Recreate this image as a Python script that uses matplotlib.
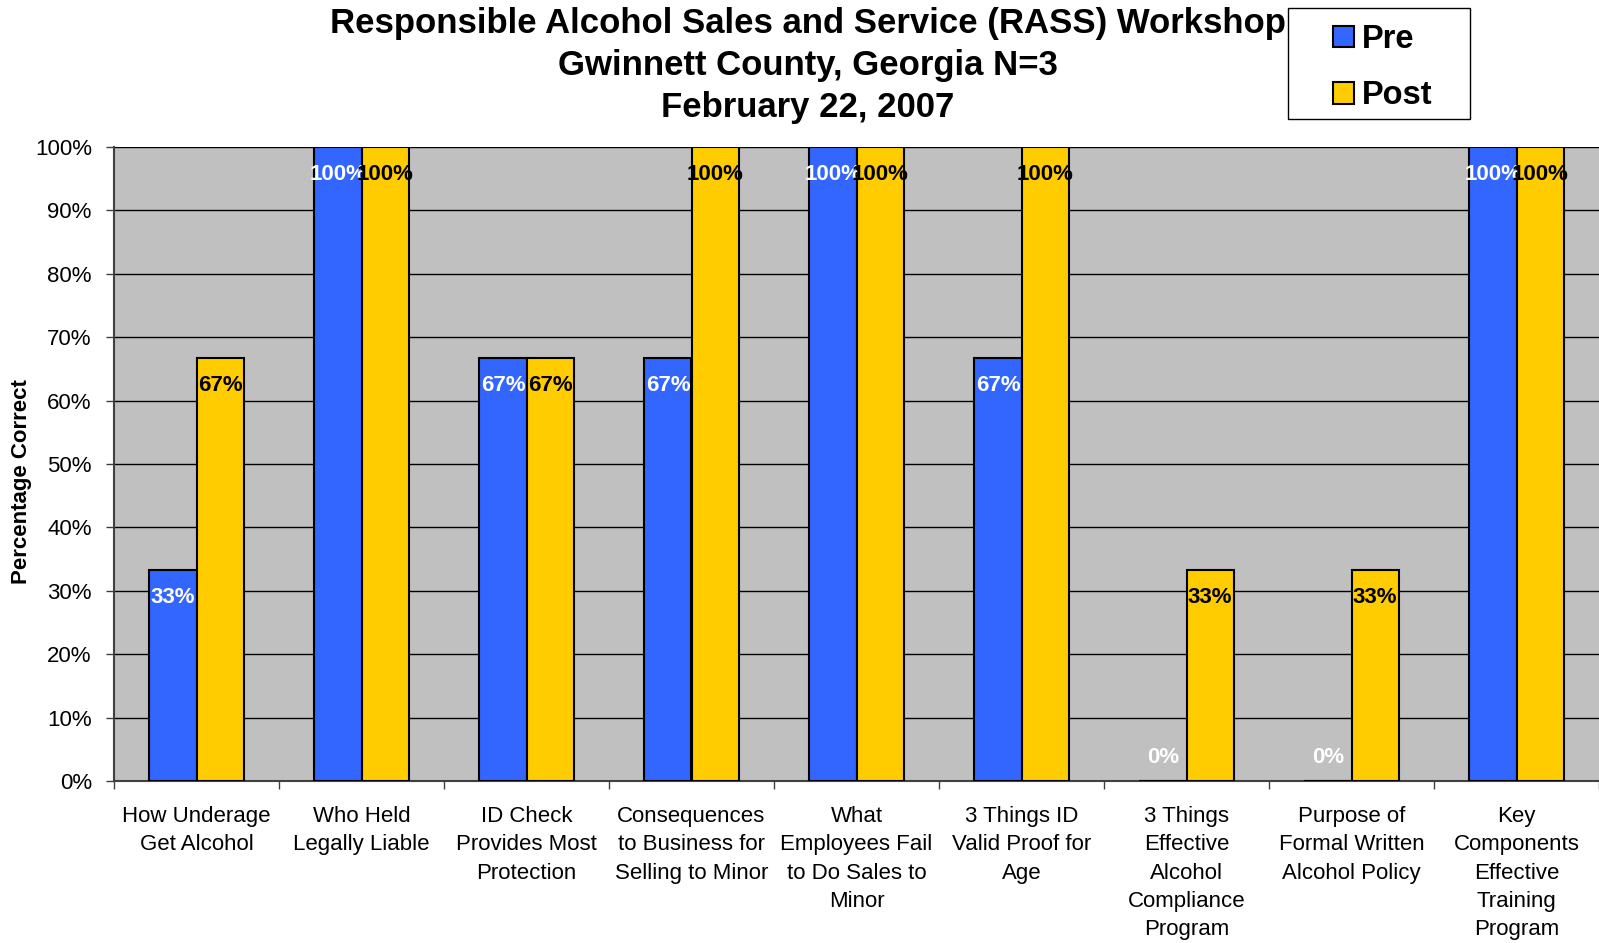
import numpy as np
import matplotlib
matplotlib.use("Agg")
import matplotlib.pyplot as plt
from matplotlib.patches import Rectangle
from matplotlib.ticker import FixedLocator, PercentFormatter

# Chart data
categories = [
    "How Underage\nGet Alcohol",
    "Who Held\nLegally Liable",
    "ID Check\nProvides Most\nProtection",
    "Consequences\nto Business for\nSelling to Minor",
    "What\nEmployees Fail\nto Do Sales to\nMinor",
    "3 Things ID\nValid Proof for\nAge",
    "3 Things\nEffective\nAlcohol\nCompliance\nProgram",
    "Purpose of\nFormal Written\nAlcohol Policy",
    "Key\nComponents\nEffective\nTraining\nProgram",
]
pre_values = [33.3, 100, 66.7, 66.7, 100, 66.7, 0, 0, 100]
post_values = [66.7, 100, 66.7, 100, 100, 100, 33.3, 33.3, 100]
series_names = ["Pre", "Post"]

title_lines = [
    "Responsible Alcohol Sales and Service (RASS) Workshop",
    "Gwinnett County, Georgia N=3",
    "February 22, 2007",
]

plt.rcParams['font.family'] = ['Liberation Sans', 'DejaVu Sans']

BLUE = "#3366FF"
YELLOW = "#FFCC00"

fig = plt.figure(figsize=(15.99, 9.43), dpi=100)
ax = fig.add_axes([114 / 1599, 1 - 781 / 943, 1 - 114 / 1599, (781 - 147) / 943])
ax.set_facecolor("#C0C0C0")

x = np.arange(len(categories))
w = 0.285
bars_pre = ax.bar(x - w / 2, pre_values, w, color=BLUE, edgecolor="black",
                  linewidth=1.5, label=series_names[0], zorder=3)
bars_post = ax.bar(x + w / 2, post_values, w, color=YELLOW, edgecolor="black",
                   linewidth=1.5, label=series_names[1], zorder=3)

# value labels
for bars, vals, col in [(bars_pre, pre_values, "white"), (bars_post, post_values, "black")]:
    for b, v in zip(bars, vals):
        off = -20 if v > 0 else 17
        ax.annotate(f"{round(v)}%", (b.get_x() + b.get_width() / 2, v),
                    xytext=(0, off), textcoords="offset points",
                    ha="center", va="center", fontsize=16, fontweight="bold",
                    color=col, zorder=5)

ax.set_xlim(-0.5, len(categories) - 0.5)
ax.set_ylim(0, 100)
ax.set_yticks(np.arange(0, 101, 10))
ax.yaxis.set_major_formatter(PercentFormatter(decimals=0))
ax.yaxis.grid(True, color="black", linewidth=1.0, zorder=1)
ax.tick_params(axis="y", labelsize=16, length=6, width=1, color="#404040", pad=10)

# category boundaries as ticks, labels in the middle
ax.xaxis.set_major_locator(FixedLocator(np.arange(-0.5, len(categories), 1)))
ax.xaxis.set_major_formatter(plt.NullFormatter())
ax.xaxis.set_minor_locator(FixedLocator(x))
ax.set_xticklabels(categories, minor=True)
ax.tick_params(axis="x", which="major", length=6, width=1, color="#404040")
ax.tick_params(axis="x", which="minor", length=0, labelsize=16, pad=18)
for lbl in ax.get_xticklabels(minor=True):
    lbl.set_linespacing(1.46)

for s in ["top", "right"]:
    ax.spines[s].set_visible(False)
ax.spines["left"].set_color("#404040")
ax.spines["bottom"].set_color("#404040")
ax.spines["left"].set_linewidth(1.5)
ax.spines["bottom"].set_linewidth(1.5)

ax.set_ylabel("Percentage Correct", fontsize=16, fontweight="bold")
ax.yaxis.set_label_coords(-0.055, 0.473)

fig.text(0.505, 0.993, "\n".join(title_lines), ha="center", va="top",
         fontsize=25, fontweight="bold", linespacing=1.35)

# legend with its own wider frame
fig.patches.append(Rectangle((1288 / 1599, 1 - 119 / 943), 182 / 1599, 111 / 943,
                             transform=fig.transFigure, facecolor="white",
                             edgecolor="black", linewidth=1.0, zorder=0))
leg = fig.legend(handles=[bars_pre, bars_post], loc="upper left",
                 bbox_to_anchor=(1333 / 1599, 1 - 24 / 943),
                 prop={"weight": "bold", "size": 23.5}, frameon=False,
                 handlelength=0.63, handleheight=0.63,
                 handletextpad=0.25, borderpad=0, labelspacing=0.78,
                 borderaxespad=0)

fig.savefig("out.png", dpi=100)
